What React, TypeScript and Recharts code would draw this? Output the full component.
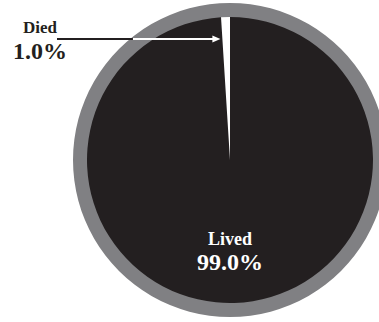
import React from 'react';
import { PieChart, Pie, Cell } from 'recharts';

const categories = ['Died', 'Lived'];
const values = [1.0, 99.0];
const sliceColors = ['#ffffff', '#231f20'];
const ringValue = [100];

const data = categories.map((name, i) => ({ name, value: values[i] }));
const ringData = ringValue.map((v) => ({ name: 'ring', value: v }));

const RAD = Math.PI / 180;
const FONT = '"Liberation Serif", "Times New Roman", serif';

const renderLabel = (props: any) => {
  const { cx, cy, index, endAngle } = props;
  const d = data[index];
  if (index === 0) {
    const y = cy - 121;
    const tipX = cx + (121 * Math.cos(endAngle * RAD)) / Math.sin(endAngle * RAD) - 2;
    const ringX = cx - Math.sqrt(157 * 157 - 121 * 121) + 3;
    return (
      <g>
        <line x1={cx - 173} y1={y} x2={ringX} y2={y} stroke="#231f20" strokeWidth={2} />
        <line x1={ringX} y1={y} x2={tipX - 6} y2={y} stroke="#ffffff" strokeWidth={2} />
        <polygon points={`${tipX},${y} ${tipX - 8},${y - 3.5} ${tipX - 8},${y + 3.5}`} fill="#ffffff" />
        <text x={cx - 190} y={cy - 127} textAnchor="middle" fontFamily={FONT} fontWeight="bold" fontSize={17} fill="#231f20">
          {d.name}
        </text>
        <text x={cx - 190} y={cy - 101} textAnchor="middle" fontFamily={FONT} fontWeight="bold" fontSize={24} fill="#231f20">
          {`${d.value.toFixed(1)}%`}
        </text>
      </g>
    );
  }
  return (
    <g>
      <text x={cx} y={cy + 85} textAnchor="middle" fontFamily={FONT} fontWeight="bold" fontSize={18} fill="#ffffff">
        {d.name}
      </text>
      <text x={cx} y={cy + 110} textAnchor="middle" fontFamily={FONT} fontWeight="bold" fontSize={24} fill="#ffffff">
        {`${d.value.toFixed(1)}%`}
      </text>
    </g>
  );
};

export default function App() {
  return (
    <div style={{ position: 'absolute', left: 0, top: 0, width: 379, height: 322, background: '#ffffff' }}>
      <PieChart width={379} height={322} margin={{ top: 0, right: 0, bottom: 0, left: 0 }}>
        <Pie
          data={ringData}
          dataKey="value"
          cx={230}
          cy={160}
          innerRadius={142}
          outerRadius={157}
          stroke="none"
          fill="#808083"
          isAnimationActive={false}
        />
        <Pie
          data={data}
          dataKey="value"
          nameKey="name"
          cx={230}
          cy={160}
          outerRadius={143}
          startAngle={90}
          endAngle={450}
          stroke="none"
          label={renderLabel}
          labelLine={false}
          isAnimationActive={false}
        >
          {data.map((d, i) => (
            <Cell key={d.name} fill={sliceColors[i]} />
          ))}
        </Pie>
      </PieChart>
    </div>
  );
}
